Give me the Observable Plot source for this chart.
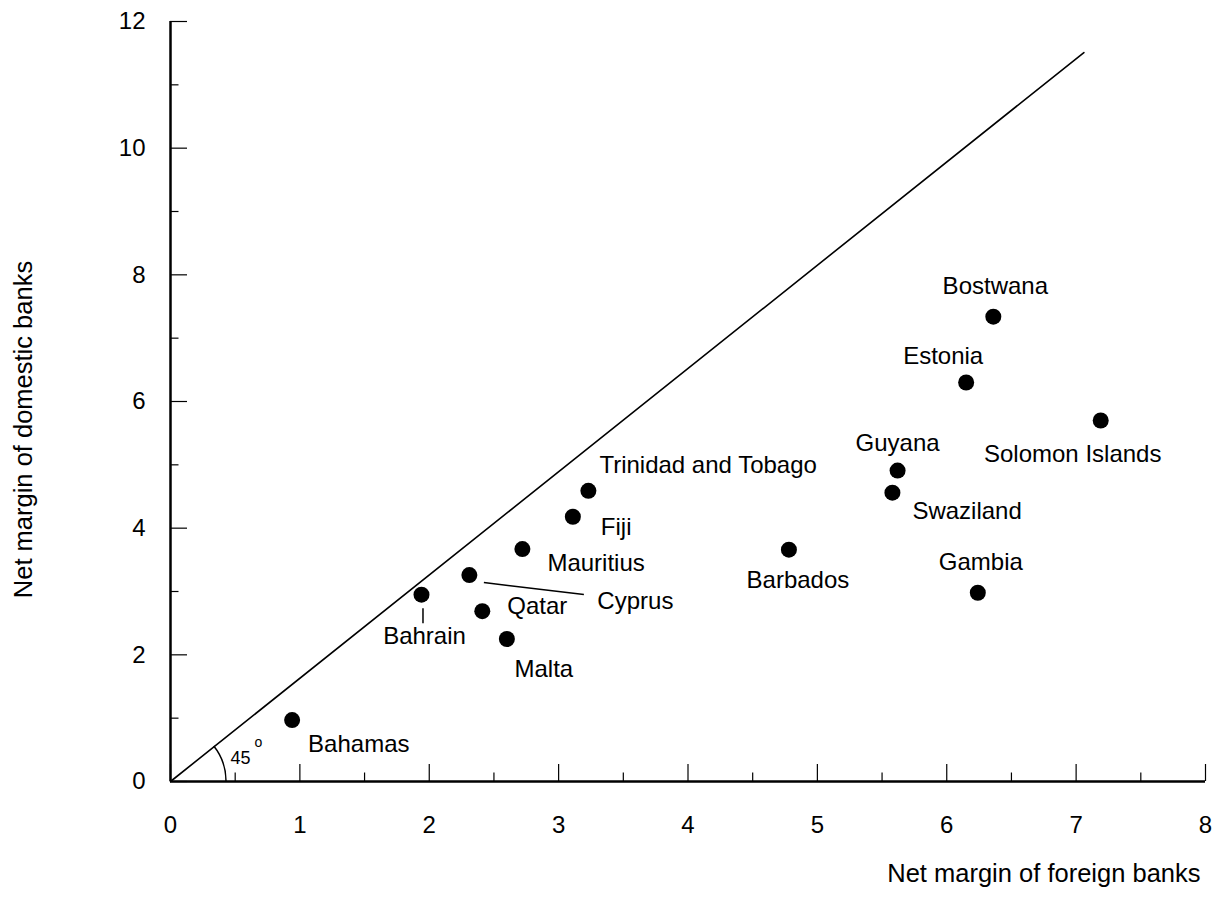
<!DOCTYPE html>
<html>
<head>
<meta charset="utf-8">
<script src="https://cdn.jsdelivr.net/npm/d3@7"></script>
<script src="https://cdn.jsdelivr.net/npm/@observablehq/plot@0.6"></script>
<style>
  body { margin: 0; background: #fff; }
  #chart svg { display: block; }
</style>
</head>
<body>
<div id="chart"></div>
<script>
// ---- Data ----
const countries = ["Bahamas","Bahrain","Cyprus","Qatar","Malta","Mauritius","Fiji","Trinidad and Tobago","Barbados","Guyana","Swaziland","Gambia","Estonia","Bostwana","Solomon Islands"];
const foreignMargin  = [0.94, 1.94, 2.31, 2.41, 2.60, 2.72, 3.11, 3.23, 4.78, 5.62, 5.58, 6.24, 6.15, 6.36, 7.19];
const domesticMargin = [0.97, 2.95, 3.26, 2.69, 2.25, 3.67, 4.18, 4.59, 3.66, 4.91, 4.56, 2.98, 6.30, 7.34, 5.70];

const xMajorTicks = [0, 1, 2, 3, 4, 5, 6, 7, 8];
const xMinorTicks = [0.5, 1.5, 2.5, 3.5, 4.5, 5.5, 6.5, 7.5];
const yMajorTicks = [0, 2, 4, 6, 8, 10, 12];
const yMinorTicks = [1, 3, 5, 7, 9, 11];

const diagonalX = [0, 7.06];
const diagonalY = [0, 11.51];
const angleLabel = "45";
const xTitle = "Net margin of foreign banks";
const yTitle = "Net margin of domestic banks";

// ---- Layout (label placement, px offsets from each point) ----
const labelLayout = {
  "Bahamas":            {dx: 16,  dy: 24,  anchor: "start"},
  "Bahrain":            {dx: 3,   dy: 42,  anchor: "middle"},
  "Cyprus":             {dx: 128, dy: 26,  anchor: "start"},
  "Qatar":              {dx: 25,  dy: -5,  anchor: "start"},
  "Malta":              {dx: 37,  dy: 30,  anchor: "middle"},
  "Mauritius":          {dx: 25,  dy: 14,  anchor: "start"},
  "Fiji":               {dx: 28,  dy: 11,  anchor: "start"},
  "Trinidad and Tobago":{dx: 11,  dy: -25, anchor: "start"},
  "Barbados":           {dx: 9,   dy: 31,  anchor: "middle"},
  "Guyana":             {dx: 0,   dy: -27, anchor: "middle"},
  "Swaziland":          {dx: 20,  dy: 19,  anchor: "start"},
  "Gambia":             {dx: 3,   dy: -30, anchor: "middle"},
  "Estonia":            {dx: -23, dy: -26, anchor: "middle"},
  "Bostwana":           {dx: 2,   dy: -30, anchor: "middle"},
  "Solomon Islands":    {dx: -28, dy: 34,  anchor: "middle"}
};
// leader lines (px offsets from the point: start and end)
const leaders = {
  "Cyprus":  [15, 8, 115, 20],
  "Bahrain": [2, 14, 2, 29]
};

const points = countries.map((c, i) => ({country: c, x: foreignMargin[i], y: domesticMargin[i]}));
const diagonal = diagonalX.map((x, i) => ({x, y: diagonalY[i]}));

const W = 1216, H = 905;
const mL = 170, mR = 11, mT = 21, mB = 124;
const frameW = W - mL - mR, frameH = H - mT - mB;
const FONT = "'Liberation Sans', Arial, Helvetica, sans-serif";
const FS = 24;
const FS_TITLE = 25.5;

// custom render mark: leader lines
function leaderMark(index, scales) {
  const g = d3.create("svg:g").attr("stroke", "black").attr("stroke-width", 1.5);
  for (const p of points) {
    const L = leaders[p.country];
    if (!L) continue;
    const px = scales.x(p.x), py = scales.y(p.y);
    g.append("line").attr("x1", px + L[0]).attr("y1", py + L[1]).attr("x2", px + L[2]).attr("y2", py + L[3]);
  }
  return g.node();
}

// custom render mark: angle arc at the origin
function arcMark(index, scales) {
  const ox = scales.x(diagonal[0].x), oy = scales.y(diagonal[0].y);
  const ex = scales.x(diagonal[1].x), ey = scales.y(diagonal[1].y);
  const ang = Math.atan2(oy - ey, ex - ox);
  const r = 56;
  const x1 = ox + r, y1 = oy;
  const x2 = ox + r * Math.cos(ang), y2 = oy - r * Math.sin(ang);
  const g = d3.create("svg:path")
    .attr("d", `M${x1},${y1} A${r},${r} 0 0 0 ${x2},${y2}`)
    .attr("fill", "none").attr("stroke", "black").attr("stroke-width", 1.5);
  return g.node();
}

const chart = Plot.plot({
  width: W,
  height: H,
  marginLeft: mL,
  marginRight: mR,
  marginTop: mT,
  marginBottom: mB,
  style: {fontFamily: FONT, fontSize: FS + "px", color: "black", background: "white"},
  x: {domain: [0, 8]},
  y: {domain: [0, 12]},
  marks: [
    // axis tick labels
    Plot.axisX(xMajorTicks, {tickSize: 0, tickPadding: 34, fontSize: FS, tickFormat: d => String(d), label: null}),
    Plot.axisY(yMajorTicks, {tickSize: 0, tickPadding: 25, fontSize: FS, tickFormat: d => String(d), label: null}),
    // inward ticks
    Plot.ruleX(xMajorTicks, {x: d => d, insetTop: frameH - 17, stroke: "black", strokeWidth: 1.2}),
    Plot.ruleX(xMinorTicks, {x: d => d, insetTop: frameH - 8.5, stroke: "black", strokeWidth: 1.2}),
    Plot.ruleY(yMajorTicks, {y: d => d, insetRight: frameW - 17, stroke: "black", strokeWidth: 1.2}),
    Plot.ruleY(yMinorTicks, {y: d => d, insetRight: frameW - 8.5, stroke: "black", strokeWidth: 1.2}),
    // axis lines
    Plot.ruleY([0], {stroke: "black", strokeWidth: 2.5}),
    Plot.ruleX([0], {stroke: "black", strokeWidth: 2.5}),
    // diagonal
    Plot.line(diagonal, {x: "x", y: "y", stroke: "black", strokeWidth: 1.6}),
    arcMark,
    Plot.text([diagonal[0]], {x: "x", y: "y", text: () => angleLabel, dx: 70, dy: -23, fontSize: 18, textAnchor: "middle"}),
    Plot.text([diagonal[0]], {x: "x", y: "y", text: () => "o", dx: 88, dy: -39, fontSize: 14, textAnchor: "middle"}),
    // points
    Plot.dot(points, {x: "x", y: "y", r: 8, fill: "black", stroke: null}),
    leaderMark,
    // labels
    ...points.map(p => {
      const L = labelLayout[p.country];
      return Plot.text([p], {x: "x", y: "y", text: "country", dx: L.dx, dy: L.dy, textAnchor: L.anchor, fontSize: FS, fill: "black"});
    }),
    // axis titles
    Plot.text([xTitle], {frameAnchor: "bottom-right", text: d => d, dx: -5, dy: 100, textAnchor: "end", fontSize: FS_TITLE, fill: "black"}),
    Plot.text([yTitle], {frameAnchor: "left", text: d => d, rotate: -90, dx: -147, dy: 28, textAnchor: "middle", fontSize: FS_TITLE, fill: "black"})
  ]
});

document.getElementById("chart").appendChild(chart);
</script>
</body>
</html>
